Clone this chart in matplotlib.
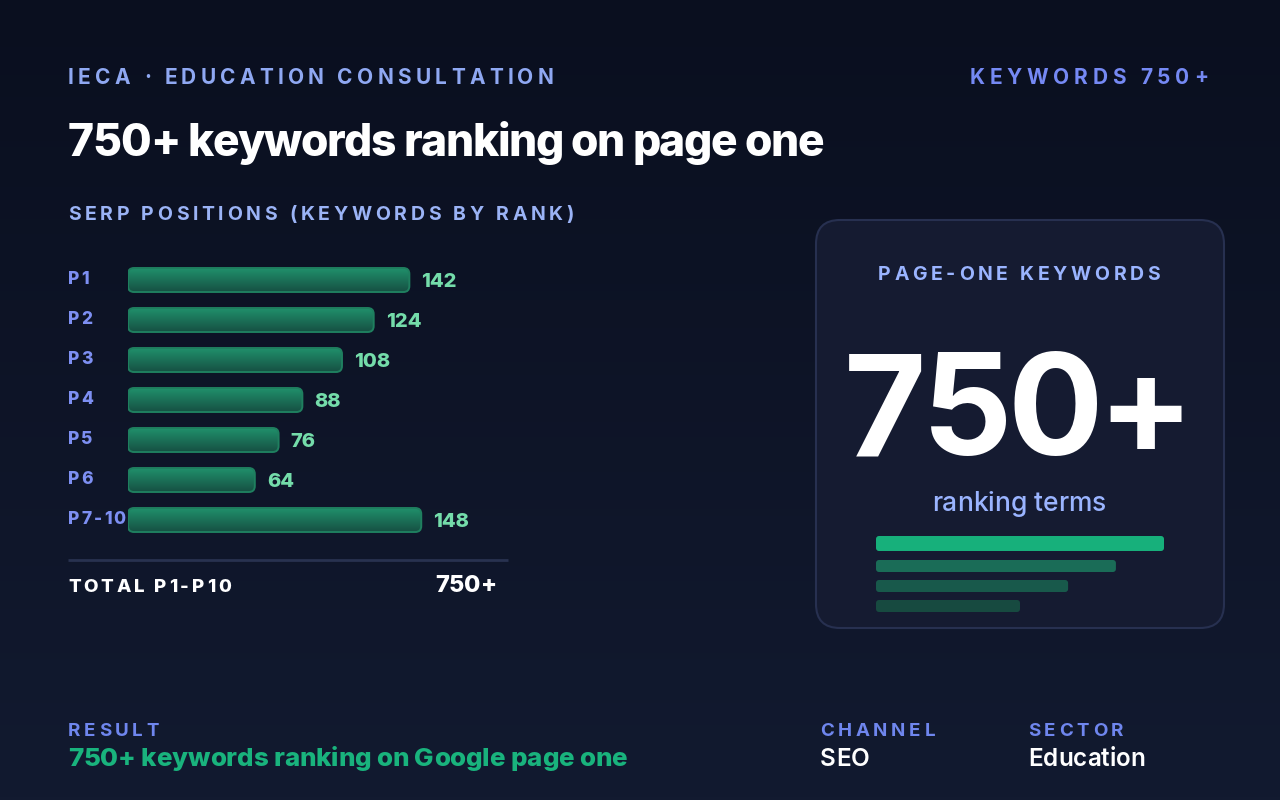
import numpy as np
import matplotlib
matplotlib.use("Agg")
import matplotlib.pyplot as plt
from matplotlib.patches import FancyBboxPatch
from matplotlib.font_manager import FontProperties, findfont, get_font
from matplotlib.colors import LinearSegmentedColormap
try:
    from matplotlib.ft2font import LoadFlags
    NOHINT = LoadFlags.NO_HINTING
except Exception:
    NOHINT = 2

# ---------------- data ----------------
categories = ["P1", "P2", "P3", "P4", "P5", "P6", "P7-10"]
values = [142, 124, 108, 88, 76, 64, 148]
total_label = "750+"
headline_value = "750+"
mini_bar_fracs = [1.0, 0.833, 0.667, 0.5]

eyebrow = "IECA · EDUCATION CONSULTATION"
badge = "KEYWORDS 750+"
title = "750+ keywords ranking on page one"
chart_title = "SERP POSITIONS (KEYWORDS BY RANK)"
total_text = "TOTAL P1-P10"
panel_title = "PAGE-ONE KEYWORDS"
panel_sub = "ranking terms"
result_label, result_text = "RESULT", "750+ keywords ranking on Google page one"
channel_label, channel_text = "CHANNEL", "SEO"
sector_label, sector_text = "SECTOR", "Education"

# ---------------- setup ----------------
W, H, DPI = 1280, 800, 100
FAM = ["Inter", "DejaVu Sans"]
fig = plt.figure(figsize=(W / DPI, H / DPI), dpi=DPI)
bg = fig.add_axes([0, 0, 1, 1])
bg.set_xlim(0, W)
bg.set_ylim(H, 0)
bg.axis("off")

bgcmap = LinearSegmentedColormap.from_list("bg", ["#0a0f1f", "#121a30"])
bg.imshow(np.linspace(0, 1, 256).reshape(-1, 1), extent=(0, W, H, 0),
          aspect="auto", cmap=bgcmap, zorder=0)


def advances(s, prop):
    font = get_font(findfont(prop))
    font.set_size(prop.get_size_in_points(), DPI)
    out = []
    for ch in s:
        g = font.load_char(ord(ch), flags=NOHINT)
        out.append(g.linearHoriAdvance / 65536)
    return out


def stext(x, y, s, size, weight, color, track=0.0, ha="left", va="baseline", z=5):
    prop = FontProperties(family=FAM, size=size, weight=weight)
    adv = advances(s, prop)
    tr = track * size * DPI / 72
    total = sum(adv) + tr * (len(s) - 1)
    if ha == "left":
        cx = x
    elif ha == "right":
        cx = x - total
    else:
        cx = x - total / 2
    for ch, a in zip(s, adv):
        if ch != " ":
            bg.text(cx, y, ch, fontproperties=prop, color=color, ha="left",
                    va=va, zorder=z)
        cx += a + tr
    return total


# ---------------- header ----------------
stext(68, 83.5, eyebrow, 15, "bold", "#8fa8f2", track=0.205)
stext(1208, 83.5, badge, 15, "bold", "#7589f4", track=0.228, ha="right")
stext(68, 156, title, 32, "heavy", "white", track=-0.031)
stext(68, 220, chart_title, 14, "bold", "#9bb3f6", track=0.19)

# ---------------- bar chart ----------------
n = len(values)
axb = fig.add_axes([128 / W, 1 - 540 / H, 320 / W, 280 / H], zorder=2)
axb.patch.set_alpha(0)
axb.axis("off")
bars = axb.barh(range(n), values, height=0.6, left=0)
barcmap = LinearSegmentedColormap.from_list("bar", ["#20906b", "#165043"])
grad = np.linspace(0, 1, 64).reshape(-1, 1)
for bar in bars:
    x, y, w, h = bar.get_x(), bar.get_y(), bar.get_width(), bar.get_height()
    bar.set_visible(False)
    patch = FancyBboxPatch((x, y), w, h,
                           boxstyle="round,pad=0,rounding_size=3.0",
                           mutation_aspect=0.05, fc="none",
                           ec="#1f7f5f", lw=1.4, zorder=3)
    axb.add_patch(patch)
    im = axb.imshow(grad, extent=(x, x + w, y + h, y), aspect="auto",
                    cmap=barcmap, zorder=2)
    im.set_clip_path(patch)
for i, v in enumerate(values):
    axb.annotate(str(v), xy=(v, i), xytext=(8.6, -1.5), textcoords="offset points",
                 ha="left", va="center", color="#74dcaa", fontsize=14.5,
                 fontweight="heavy", family=FAM)
axb.set_xlim(0, 161.5)
axb.set_ylim(n - 0.5, -0.5)

for i, c in enumerate(categories):
    ypx = H - axb.transData.transform((0, i))[1]
    stext(68, ypx + 4, c, 12.5, "heavy", "#7d8ff2", track=0.12)

bg.plot([68, 508], [560, 560], color="#283250", lw=2, zorder=3,
        solid_capstyle="butt")
stext(68, 592, total_text, 13.5, "heavy", "white", track=0.15)
stext(497, 592, total_label, 17, "heavy", "white", ha="right")

# ---------------- panel ----------------
panel = FancyBboxPatch((816, 220), 408, 408,
                       boxstyle="round,pad=0,rounding_size=24",
                       fc="#151b31", ec="#273050", lw=1.5, zorder=1)
bg.add_patch(panel)
stext(1019, 280, panel_title, 14, "bold", "#9ab4ff", track=0.189, ha="center")
stext(1019, 455, headline_value, 102, "bold", "white", track=-0.035, ha="center")
stext(1019, 511, panel_sub, 19, "medium", "#9ab4ff", ha="center")

mini_colors = ["#17b07b", "#1a6c57", "#18594b", "#174a40"]
mini_tops = [536, 560, 580, 600]
mini_h = [15, 12, 12, 12]
for f, c, t, hh in zip(mini_bar_fracs, mini_colors, mini_tops, mini_h):
    bg.add_patch(FancyBboxPatch((876, t), 288 * f, hh,
                                boxstyle="round,pad=0,rounding_size=3",
                                fc=c, ec="none", zorder=2))

# ---------------- footer ----------------
stext(68, 736, result_label, 13.5, "bold", "#6f86ee", track=0.19)
stext(68, 766, result_text, 18.7, "heavy", "#19b37d", track=-0.005)
stext(820, 736, channel_label, 13.5, "bold", "#6f86ee", track=0.2)
stext(820, 766, channel_text, 17.5, "semibold", "white")
stext(1028, 736, sector_label, 13.5, "bold", "#6f86ee", track=0.2)
stext(1028, 766, sector_text, 17.5, "semibold", "white")

fig.savefig("out.png", dpi=DPI)
